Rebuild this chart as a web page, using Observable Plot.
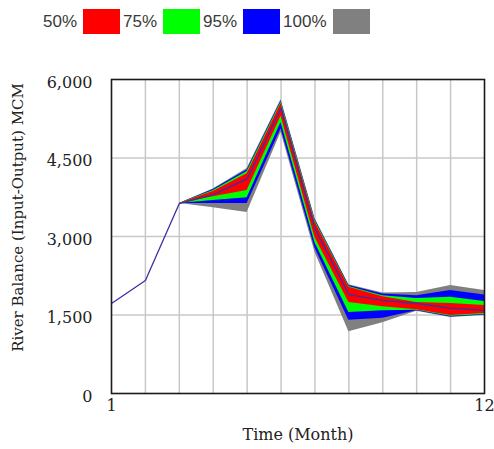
<!DOCTYPE html>
<html>
<head>
<meta charset="utf-8">
<script src="https://cdn.jsdelivr.net/npm/d3@7"></script>
<script src="https://cdn.jsdelivr.net/npm/@observablehq/plot@0.6"></script>
<style>
  body { margin: 0; background: #fff; }
  #legend { height: 40px; box-sizing: border-box; padding: 9px 0 0 43px; display: flex; align-items: flex-start; font: 17px "Liberation Sans", sans-serif; color: #3a3a3a; }
  #legend .lab { line-height: 25px; margin-right: 6px; }
  #legend .sw { width: 37px; height: 25px; margin-right: 3px; }
</style>
</head>
<body>
<div id="legend"></div>
<div id="chart"></div>
<script>
// ---- data ----
const legendLabels = ["50%", "75%", "95%", "100%"];
const legendColors = ["#ff0000", "#00ff00", "#0000ff", "#808080"];

const months = [1, 2, 3, 4, 5, 6, 7, 8, 9, 10, 11, 12];
const baseRun = [1720, 2160, 3630, 3800, 4100, 5450, 3150, 1890, 1780, 1720, 1630, 1590];

const bandMonths = [3, 4, 5, 6, 7, 8, 9, 10, 11, 12];
const min100 = [3630, 3550, 3460, 4990, 2700, 1180, 1350, 1570, 1450, 1490];
const lo95   = [3630, 3630, 3630, 5060, 2780, 1400, 1440, 1580, 1460, 1500];
const lo75   = [3630, 3690, 3740, 5180, 2880, 1550, 1580, 1590, 1475, 1510];
const lo50   = [3630, 3760, 3880, 5300, 2980, 1740, 1660, 1600, 1490, 1530];
const hi50   = [3630, 3860, 4200, 5540, 3280, 2030, 1850, 1740, 1720, 1680];
const hi75   = [3630, 3880, 4240, 5570, 3310, 2045, 1870, 1815, 1840, 1760];
const hi95   = [3630, 3900, 4270, 5590, 3330, 2065, 1900, 1870, 1970, 1880];
const max100 = [3630, 3910, 4300, 5620, 3350, 2080, 1920, 1930, 2064, 1970];

const yTicks = [0, 1500, 3000, 4500, 6000];
const xTicks = [1, 12];
const xTitle = "Time (Month)";
const yTitle = "River Balance (Input-Output) MCM";

// ---- legend ----
const legend = document.getElementById("legend");
legendLabels.forEach((l, i) => {
  const t = document.createElement("span"); t.className = "lab"; t.textContent = l;
  const s = document.createElement("span"); s.className = "sw"; s.style.background = legendColors[i];
  legend.append(t, s);
});

// ---- tables ----
const bands = bandMonths.map((m, i) => ({
  month: m, min100: min100[i], lo95: lo95[i], lo75: lo75[i], lo50: lo50[i],
  hi50: hi50[i], hi75: hi75[i], hi95: hi95[i], max100: max100[i]
}));
const base = months.map((m, i) => ({month: m, value: baseRun[i]}));

const serif = "DejaVu Serif, serif";

const chart = Plot.plot({
  width: 494,
  height: 409,
  marginTop: 39,
  marginBottom: 56,
  marginLeft: 111,
  marginRight: 10,
  style: {fontFamily: serif, fontSize: "15px", color: "#222", background: "#fff"},
  x: {domain: [1, 12]},
  y: {domain: [0, 6000]},
  marks: [
    Plot.gridX(d3.range(2, 12), {stroke: "#c8c8c8", strokeOpacity: 1, strokeWidth: 1.5}),
    Plot.gridY([1500, 3000, 4500], {stroke: "#c8c8c8", strokeOpacity: 1, strokeWidth: 1.5}),
    Plot.areaY(bands, {x: "month", y1: "min100", y2: "max100", fill: legendColors[3]}),
    Plot.areaY(bands, {x: "month", y1: "lo95", y2: "hi95", fill: legendColors[2]}),
    Plot.areaY(bands, {x: "month", y1: "lo75", y2: "hi75", fill: legendColors[1]}),
    Plot.areaY(bands, {x: "month", y1: "lo50", y2: "hi50", fill: legendColors[0]}),
    Plot.line(base, {x: "month", y: "value", stroke: "#3a2fa6", strokeWidth: 1.3}),
    Plot.frame({stroke: "#1a1a1a", strokeWidth: 1.6}),
    Plot.axisY(yTicks, {tickSize: 0, tickPadding: 19, tickFormat: d3.format(","), dy: 3, label: null, fontSize: 16}),
    Plot.axisX(xTicks, {tickSize: 0, tickPadding: 6, label: null, fontSize: 16}),
    Plot.text([xTitle], {frameAnchor: "bottom", dy: 46, fontSize: 16, fill: "#222"}),
    Plot.text([yTitle], {frameAnchor: "left", textAnchor: "middle", rotate: -90, dx: -93, dy: -19, fontSize: 15, fill: "#222"})
  ]
});
document.getElementById("chart").append(chart);
</script>
</body>
</html>
